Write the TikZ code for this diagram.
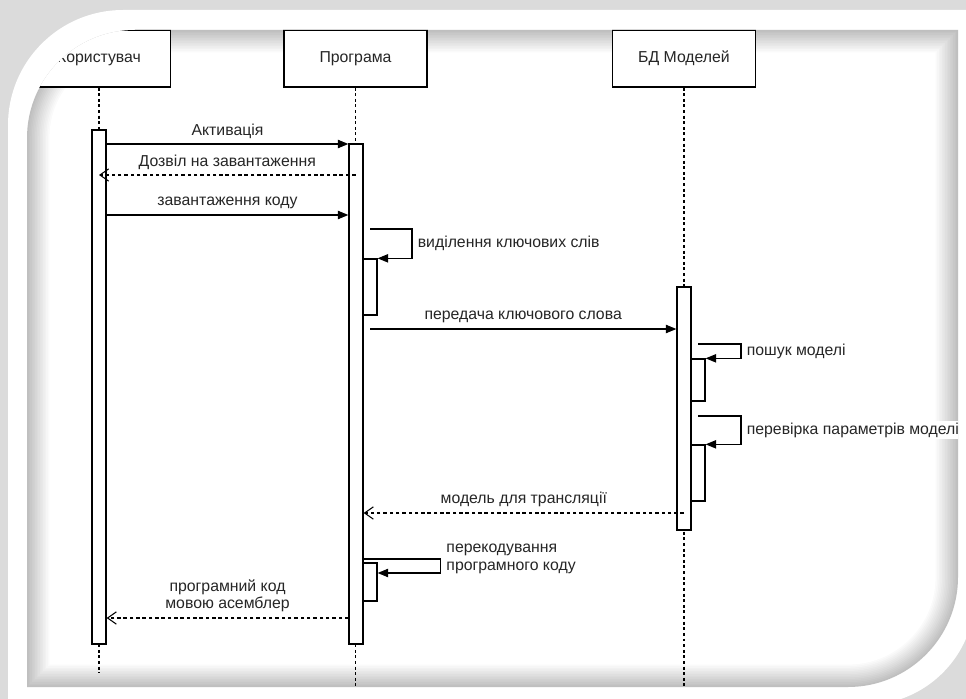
\documentclass[tikz,border=0pt]{standalone}
\usepackage{fontspec}
\setmainfont{Liberation Sans}
\usepackage{xcolor}
\usetikzlibrary{arrows.meta}
\usetikzlibrary{fit}
\tikzstyle{actor}=[draw, line width=0.6pt, fill=white, minimum width=2.86cm, minimum height=1.14cm, inner sep=0pt]
\tikzstyle{lifeline}=[line width=0.6pt, dash pattern=on 1.7pt off 1.5pt]
\tikzstyle{bar}=[draw, line width=0.75pt, fill=white, inner sep=0pt]
\tikzstyle{call}=[line width=0.6pt, -{Triangle[length=6pt,width=4.8pt]}]
\tikzstyle{reply}=[line width=0.6pt, dash pattern=on 2pt off 1.6pt, -{Straight Barb[length=5pt,width=7pt]}]
\tikzstyle{lab}=[fill=white, inner sep=1pt]
\newcommand{\frameFill}[7]{
	\path[#1] (#4,#3) -- ({#2+#6},#3) arc[start angle=270,end angle=180,radius=#6] -- (#2,#5) -- ({#4-#7},#5) arc[start angle=90,end angle=0,radius=#7] -- cycle;
}

\begin{document}
\begin{tikzpicture}[x=0.02cm, y=-0.02cm, font=\fontsize{9}{10.2}\selectfont, text=black!85]
	\useasboundingbox (0,0) rectangle (966,699);
	\fill[gray!28] (0,0) rectangle (966,699);
	\frameFill{fill=white}{8}{10}{975}{705}{115}{110}
	% soft shadow inside the frame
	\foreach \i in {0,...,14}{
		\pgfmathsetmacro\xa{27+1.6*\i}
		\pgfmathsetmacro\ya{30+1.6*\i}
		\pgfmathsetmacro\xb{958-1.6*\i}
		\pgfmathsetmacro\yb{687-1.6*\i}
		\pgfmathsetmacro\ra{108-1.6*\i}
		\pgfmathsetmacro\rb{110-1.6*\i}
		\pgfmathsetmacro\sh{25-25*\i/14}
		\frameFill{fill=black!\sh}{\xa}{\ya}{\xb}{\yb}{\ra}{\rb}
	}
	\begin{scope}
	\frameFill{clip}{27}{30}{958}{687}{108}{110}
	% actors and lifelines
	\node[actor] (user) at (99,58.5) {Користувач};
	\node[actor] (prog) at (355.5,58.5) {Програма};
	\node[actor] (db) at (684,58.5) {БД Моделей};
	\coordinate (uend) at (0,673);
	\coordinate (pend) at (0,690);
	\draw[lifeline] (user.south) -- (user.south |- uend);
	\draw[lifeline] (prog.south) -- (prog.south |- pend);
	\draw[lifeline] (db.south) -- (db.south |- pend);
	% activation bars
	\node[bar, fit={(92,130) (106,644)}] (uact) {};
	\node[bar, fit={(349,144) (363,644)}] (pact) {};
	\node[bar, fit={(363,259) (377,315)}] (psubA) {};
	\node[bar, fit={(363,563) (377,601)}] (psubB) {};
	\node[bar, fit={(677,287) (691,530)}] (dact) {};
	\node[bar, fit={(691,359) (705,401)}] (dsubA) {};
	\node[bar, fit={(691,445) (705,501)}] (dsubB) {};
	% messages
	\coordinate (t1) at (0,144);
	\coordinate (t2) at (0,175);
	\coordinate (t3) at (0,215);
	\coordinate (sA) at (370,229);
	\coordinate (sB) at (370,329);
	\coordinate (sC) at (698,344);
	\coordinate (sD) at (698,416);
	\coordinate (t8) at (0,513);
	\coordinate (tE) at (0,559);
	\coordinate (tEb) at (0,573);
	\coordinate (t10) at (0,618);
	\draw[call] (uact.east |- t1) -- node[lab, above=2pt] {Активація} (pact.west |- t1);
	\draw[reply] (prog |- t2) -- node[lab, above=2pt] {Дозвіл на завантаження} (user |- t2);
	\draw[call] (uact.east |- t3) -- node[lab, above=2pt] {завантаження коду} (pact.west |- t3);
	\draw[call] (sA) -- ++(42,0) |- node[lab, right=2pt, pos=.25] {виділення ключових слів} (psubA.north east);
	\draw[call] (sB) -- node[lab, above=2pt] {передача ключового слова} (dact.west |- sB);
	\draw[call] (sC) -- ++(43,0) |- node[lab, right=2pt, pos=.25] {пошук моделі} (dsubA.north east);
	\draw[call] (sD) -- ++(43,0) |- node[lab, right=2pt, pos=.25] {перевірка параметрів моделі} (dsubB.north east);
	\draw[reply] (db |- t8) -- node[lab, above=2pt] {модель для трансляції} (pact.east |- t8);
	\draw[call] (pact.east |- tE) -- ++(77,0) |- node[lab, right=2pt, pos=.25, yshift=4pt, align=left] {перекодування\\програмного коду} (psubB.east |- tEb);
	\draw[reply] (pact.west |- t10) -- node[lab, above=2pt, align=center] {програмний код\\мовою асемблер} (uact.east |- t10);
	\end{scope}
\end{tikzpicture}
\end{document}
